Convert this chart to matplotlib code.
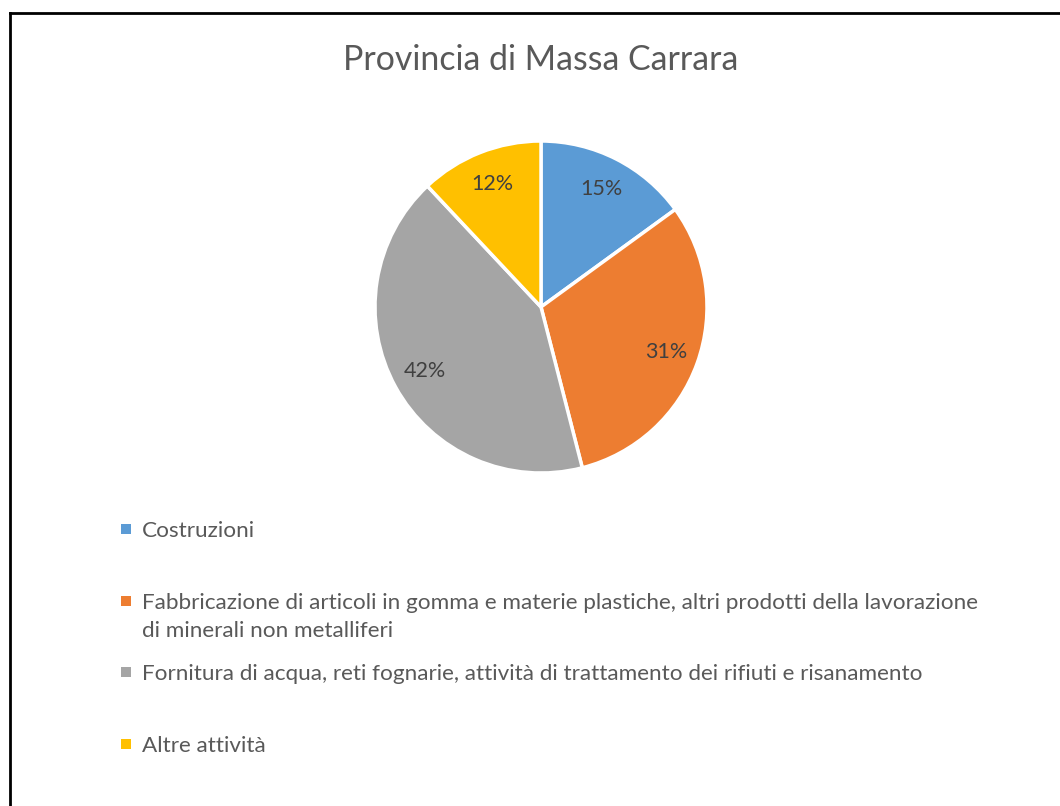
import matplotlib
matplotlib.use('Agg')
import matplotlib.pyplot as plt
from matplotlib.lines import Line2D
from matplotlib.patches import Rectangle

# data
title = 'Provincia di Massa Carrara'
categories = [
    'Costruzioni',
    'Fabbricazione di articoli in gomma e materie plastiche, altri prodotti della lavorazione\ndi minerali non metalliferi',
    'Fornitura di acqua, reti fognarie, attività di trattamento dei rifiuti e risanamento',
    'Altre attività',
]
shares = [15, 31, 42, 12]
colors = ['#5B9BD5', '#ED7D31', '#A5A5A5', '#FFC000']

plt.rcParams['font.family'] = ['Lato', 'DejaVu Sans']

W, H = 1060, 806
fig = plt.figure(figsize=(W / 100, H / 100), dpi=100)

# outer frame (only left and top are visible in the crop)
fig.add_artist(Line2D([10 / W, 10 / W], [0, 1 - 13 / H], color='black', lw=2, transform=fig.transFigure))
fig.add_artist(Line2D([10 / W, 1], [1 - 13 / H, 1 - 13 / H], color='black', lw=2, transform=fig.transFigure))

fig.text(541 / W, 1 - 60 / H, title, ha='center', va='center', fontsize=24.4, color='#595959')

# pie
cx, cy, r = 541, 307, 166
ax = fig.add_axes([(cx - r) / W, (H - cy - r) / H, 2 * r / W, 2 * r / H])
wedges, texts, autotexts = ax.pie(
    shares, colors=colors, startangle=90, counterclock=False,
    autopct=lambda p: f'{p:.0f}%', pctdistance=0.8,
    wedgeprops=dict(edgecolor='white', linewidth=2.5),
    textprops=dict(fontsize=15.5, color='#404040'),
)
ax.set_xlim(-1, 1)
ax.set_ylim(-1, 1)
ax.set_aspect('equal')

# legend, laid out by hand like the Excel one (y = centre of first text line)
legend_y = [529, 601, 672, 744]
for lab, col, y in zip(categories, colors, legend_y):
    fig.add_artist(Rectangle(((126 - 5) / W, 1 - (y + 5) / H), 10 / W, 10 / H,
                             facecolor=col, edgecolor='none', transform=fig.transFigure))
    fig.text(142 / W, 1 - (y - 8) / H, lab, ha='left', va='top', fontsize=16.2,
             color='#595959', linespacing=1.5)

fig.savefig('out.png', dpi=100, facecolor='white')
